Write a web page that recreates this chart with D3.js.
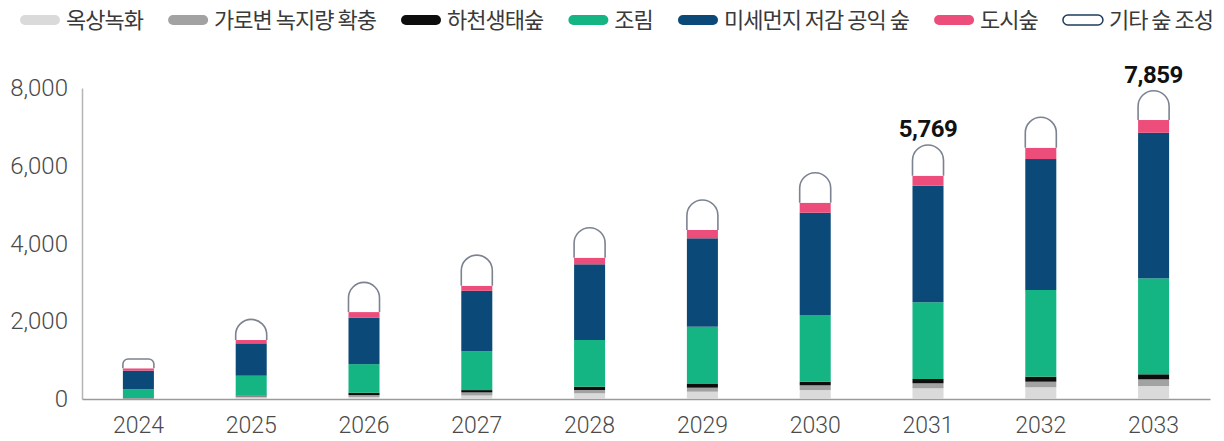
<!DOCTYPE html>
<html><head><meta charset="utf-8">
<script src="https://cdn.jsdelivr.net/npm/d3@7"></script>
<style>
html,body{margin:0;padding:0;background:#fff;}
svg{display:block;}
</style></head>
<body>
<svg id="chart" width="1224" height="441"></svg>
<script>
const years = ["2024","2025","2026","2027","2028","2029","2030","2031","2032","2033"];
const rooftop   = [10, 40, 50, 90, 147, 188, 231, 275, 301, 334];
const street    = [10, 30, 50, 80, 85, 103, 121, 129, 144, 172];
const river     = [5, 15, 59, 59, 85, 95, 93, 111, 129, 129];
const afforest  = [225, 514, 738, 1003, 1201, 1474, 1716, 1973, 2230, 2469];
const fineDust  = [478, 833, 1191, 1551, 1947, 2274, 2631, 2999, 3369, 3745];
const urban     = [62, 85, 147, 129, 170, 213, 257, 257, 291, 327];
const other     = [239, 532, 764, 790, 772, 772, 772, 790, 782, 754];
const seriesNames = ["옥상녹화","가로변 녹지량 확충","하천생태숲","조림","미세먼지 저감 공익 숲","도시숲","기타 숲 조성"];
const seriesColors = ["#dadada","#a2a2a2","#0d0d0d","#14b582","#0b4a78","#ec4d7a","#ffffff"];
const yTicks = [0, 2000, 4000, 6000, 8000];
const valueLabels = [null,null,null,null,null,null,null,"5,769",null,"7,859"];

const svg = d3.select("#chart");
const seriesData = [rooftop, street, river, afforest, fineDust, urban, other];
const table = years.map((y,i)=>{const o={year:y}; seriesNames.forEach((n,k)=>o[n]=seriesData[k][i]); return o;});
const stack = d3.stack().keys(seriesNames)(table);

const x = d3.scaleBand().domain(years).range([82,1210]).paddingInner(0.725).paddingOuter(0.3625);
const y = d3.scaleLinear().domain([0,8000]).range([399,88]);

// axes
const yAxis = svg.append("g").attr("transform","translate(82,0)")
  .call(d3.axisLeft(y).tickValues(yTicks).tickSize(0).tickPadding(14).tickFormat(d3.format(",")));
yAxis.select(".domain").attr("stroke","#b5b5b5").attr("stroke-width",1.5);
yAxis.selectAll("text").attr("font-family","Roboto, sans-serif").attr("font-weight",300)
  .attr("font-size",24).attr("fill","#4a4a4a");

const xAxis = svg.append("g").attr("transform","translate(0,399)")
  .call(d3.axisBottom(x).tickSize(0).tickPadding(18));
xAxis.select(".domain").attr("stroke","#9a9a9a").attr("stroke-width",1.5);
xAxis.selectAll("text").attr("font-family","Roboto, sans-serif").attr("font-weight",300)
  .attr("font-size",23).attr("fill","#4a4a4a");

// stacked rects (except the cap series)
const bw = x.bandwidth();
stack.slice(0,6).forEach((layer,k)=>{
  svg.append("g").attr("fill",seriesColors[k]).selectAll("rect").data(layer).join("rect")
    .attr("x",d=>x(d.data.year)).attr("width",bw)
    .attr("y",d=>y(d[1])).attr("height",d=>Math.max(0,y(d[0])-y(d[1])));
});

// caps (기타 숲 조성)
const capLayer = stack[6];
svg.append("g").selectAll("path").data(capLayer).join("path")
  .attr("d",d=>{
    const x0 = x(d.data.year), x1 = x0+bw, yb = y(d[0]), yt = y(d[1]);
    const h = yb-yt;
    const r = Math.max(2, Math.min(bw/2, h-4));
    return `M${x0},${yb} L${x0},${yt+r} A${r},${r} 0 0 1 ${x0+r},${yt} L${x1-r},${yt} A${r},${r} 0 0 1 ${x1},${yt+r} L${x1},${yb}`;
  })
  .attr("fill","#ffffff").attr("stroke","#7b8390").attr("stroke-width",1.6);

// value labels
svg.append("g").selectAll("text").data(capLayer.filter((d,i)=>valueLabels[i]!==null)).join("text")
  .attr("x",d=>x(d.data.year)+bw/2).attr("y",d=>y(d[1])-8)
  .attr("text-anchor","middle").attr("font-family","Roboto, sans-serif").attr("font-weight",700)
  .attr("font-size",24).attr("letter-spacing",-0.5).attr("fill","#111")
  .text(d=>valueLabels[years.indexOf(d.data.year)]);

// legend
const lg = svg.append("g");
const items = seriesNames.map((n,k)=>{
  const g = lg.append("g");
  g.append("rect").attr("x",0).attr("y",-5).attr("width",40).attr("height",10).attr("rx",5)
    .attr("fill",seriesColors[k]).attr("stroke",k===6?"#1d3c5e":"none").attr("stroke-width",1.5);
  const t = g.append("text").attr("x",46).attr("y",0).attr("dy","0.36em")
    .attr("font-family","'Noto Sans CJK KR', sans-serif").attr("font-size",22)
    .attr("letter-spacing",-1).attr("fill","#3a3a3a").text(n);
  return {g, w:46+t.node().getComputedTextLength()};
});
const startX = 20, endX = 1213;
const totalW = d3.sum(items,d=>d.w);
const gap = (endX-startX-totalW)/(items.length-1);
let cx = startX;
items.forEach(it=>{it.g.attr("transform",`translate(${cx},20)`); cx += it.w+gap;});
</script>
</body></html>
